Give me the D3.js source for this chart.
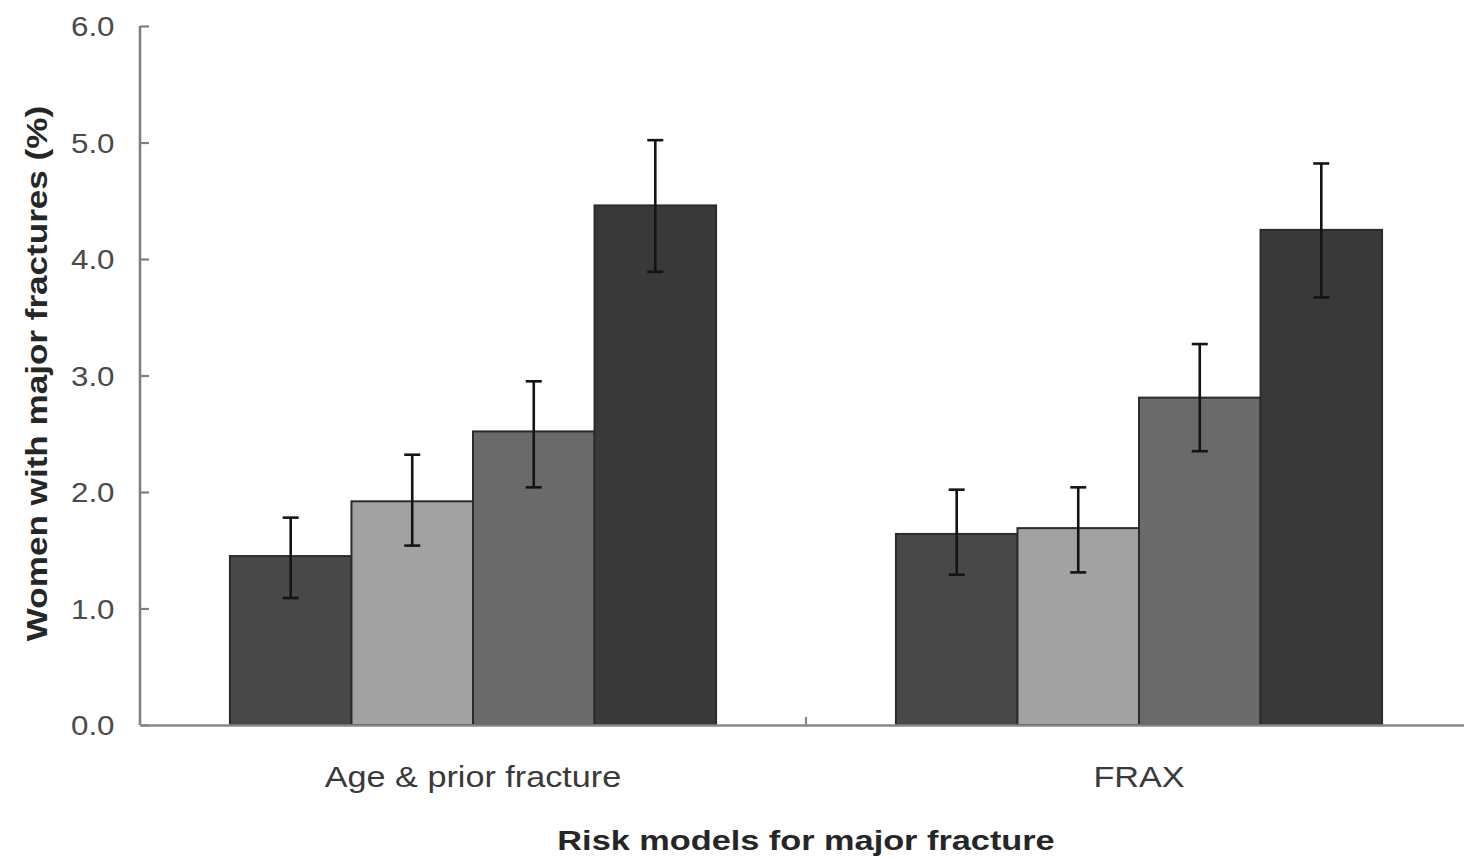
<!DOCTYPE html>
<html>
<head>
<meta charset="utf-8">
<script src="https://cdn.jsdelivr.net/npm/d3@7"></script>
<style>
  html, body { margin: 0; padding: 0; background: #fff; }
  svg { display: block; }
  text { font-family: "Liberation Sans", Arial, Helvetica, sans-serif; }
</style>
</head>
<body>
<svg id="chart" width="1464" height="859"></svg>
<script>
// Risk models on the x axis, four risk groups per model
const models = ["Age & prior fracture", "FRAX"];
const groups = ["Group 1", "Group 2", "Group 3", "Group 4"];
const groupColors = ["#484848", "#a2a2a2", "#6a6a6a", "#393939"];

// Percentage of women with major fractures, with 95% CI bounds
const pctAge  = [1.45, 1.92, 2.52, 4.46];
const lowAge  = [1.09, 1.54, 2.04, 3.89];
const highAge = [1.78, 2.32, 2.95, 5.02];

const pctFrax  = [1.64, 1.69, 2.81, 4.25];
const lowFrax  = [1.29, 1.31, 2.35, 3.67];
const highFrax = [2.02, 2.04, 3.27, 4.82];

const yTicks = [0, 1, 2, 3, 4, 5, 6];
const yTitle = "Women with major fractures (%)";
const xTitle = "Risk models for major fracture";

const rows = [
  { model: models[0], pct: pctAge,  low: lowAge,  high: highAge },
  { model: models[1], pct: pctFrax, low: lowFrax, high: highFrax }
];

const svg = d3.select("#chart");
const margin = { left: 140, top: 26, bottom: 134 };
const height = 859;
const plotRight = 1472;

const x0 = d3.scaleBand().domain(models).range([margin.left, plotRight]).paddingInner(0).paddingOuter(0);
const x1 = d3.scaleBand().domain(groups).range([0, x0.bandwidth()]).paddingInner(0).paddingOuter(0.74);
const y = d3.scaleLinear().domain([0, 6]).range([height - margin.bottom, margin.top]);

// wide-set lettering: glyphs stretched along the reading direction
function widen(sel, k) {
  sel.each(function () {
    const t = d3.select(this);
    const base = t.attr("transform") || "";
    t.attr("transform", base + ` scale(${k},1)`);
  });
}

// Bars
const g = svg.append("g");
const bars = g.selectAll("g.model").data(rows).join("g")
  .attr("class", "model")
  .attr("transform", d => `translate(${x0(d.model)},0)`);

bars.selectAll("rect").data(d => d.pct.map((v, i) => ({ g: groups[i], v, i }))).join("rect")
  .attr("x", d => x1(d.g))
  .attr("y", d => y(d.v))
  .attr("width", x1.bandwidth())
  .attr("height", d => y(0) - y(d.v))
  .attr("fill", d => groupColors[d.i])
  .attr("stroke", "#2b2b2b")
  .attr("stroke-width", 2);

// Error bars
const capW = 16;
const eb = bars.selectAll("g.err").data(d => d.pct.map((v, i) => ({ g: groups[i], lo: d.low[i], hi: d.high[i] }))).join("g")
  .attr("class", "err")
  .attr("transform", d => `translate(${x1(d.g) + x1.bandwidth() / 2},0)`)
  .attr("stroke", "#141414")
  .attr("stroke-width", 2.6);
eb.append("line").attr("x1", 0).attr("x2", 0).attr("y1", d => y(d.hi)).attr("y2", d => y(d.lo));
eb.append("line").attr("x1", -capW / 2).attr("x2", capW / 2).attr("y1", d => y(d.hi)).attr("y2", d => y(d.hi));
eb.append("line").attr("x1", -capW / 2).attr("x2", capW / 2).attr("y1", d => y(d.lo)).attr("y2", d => y(d.lo));

// Y axis
const yAxis = d3.axisRight(y).tickValues(yTicks).tickSize(9).tickFormat(d3.format(".1f"));
const ya = svg.append("g").attr("transform", `translate(${margin.left},0)`).call(yAxis);
ya.select(".domain").attr("stroke", "#808080").attr("stroke-width", 2.6).attr("d", `M0,${y(6)}V${y(0)}`);
ya.selectAll(".tick line").attr("stroke", "#808080").attr("stroke-width", 2.2);
ya.selectAll(".tick text")
  .attr("x", -22)
  .attr("dy", "0.36em")
  .attr("text-anchor", "end")
  .attr("fill", "#4a4a4a")
  .attr("font-size", 27)
  .call(widen, 1.16);

// X axis
const xAxis = d3.axisTop(x0).tickSize(0).tickFormat("");
const xa = svg.append("g").attr("transform", `translate(0,${y(0)})`).call(xAxis);
xa.select(".domain").attr("stroke", "#888").attr("stroke-width", 2.6);
// boundary tick between the two models
xa.append("line")
  .attr("x1", x0(models[1])).attr("x2", x0(models[1]))
  .attr("y1", 0).attr("y2", -8)
  .attr("stroke", "#888").attr("stroke-width", 2.2);

// Model labels
svg.selectAll("text.model-label").data(models).join("text")
  .attr("class", "model-label")
  .attr("text-anchor", "middle")
  .attr("fill", "#3a3a3a")
  .attr("font-size", 30)
  .attr("transform", d => `translate(${x0(d) + x0.bandwidth() / 2},787)`)
  .text(d => d)
  .call(widen, 1.14);

// Axis titles
svg.append("text")
  .attr("text-anchor", "middle")
  .attr("font-weight", "bold")
  .attr("fill", "#262626")
  .attr("font-size", 27)
  .attr("transform", `translate(${x0(models[1])},850)`)
  .text(xTitle)
  .call(widen, 1.27);

svg.append("text")
  .attr("text-anchor", "middle")
  .attr("font-weight", "bold")
  .attr("fill", "#262626")
  .attr("font-size", 30)
  .attr("transform", `translate(47,${(y(0) + y(6)) / 2 - 2}) rotate(-90)`)
  .text(yTitle)
  .call(widen, 1.17);
</script>
</body>
</html>
